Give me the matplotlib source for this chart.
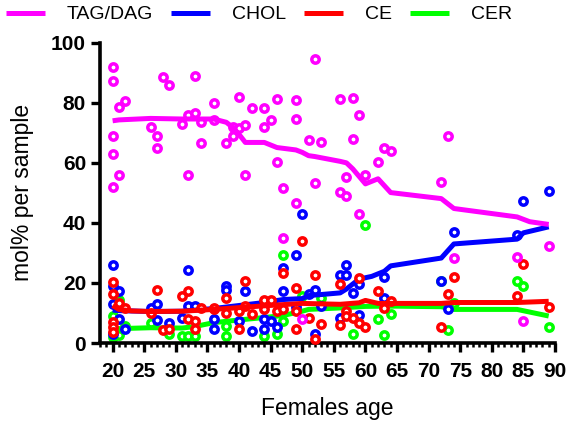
import matplotlib
matplotlib.use('Agg')
import matplotlib.pyplot as plt
from matplotlib.ticker import MultipleLocator

plt.rcParams['font.family'] = ['Liberation Sans', 'DejaVu Sans']

# TAG/DAG points
tag_age = [20, 20, 20, 20, 20, 21, 21, 22, 26, 27, 27, 28, 29, 31, 32, 32, 33, 33,
           34, 34, 36, 36, 38, 39, 39, 40, 40, 41, 41, 42, 44, 44, 45, 46, 46, 47,
           47, 49, 49, 49, 50, 51, 52, 52, 53, 56, 56, 57, 57, 58, 58, 59, 59, 60,
           62, 63, 64, 72, 73, 74, 84, 85, 89]
tag_val = [91.8, 87.4, 69.1, 63.0, 51.8, 78.6, 56.1, 80.5, 71.8, 68.9, 64.8, 88.7,
           85.8, 72.9, 76.1, 55.9, 89.0, 76.7, 73.6, 66.7, 79.8, 74.2, 66.7, 69.0,
           72.0, 71.5, 82.0, 72.5, 55.8, 78.4, 78.4, 71.9, 74.3, 81.3, 60.2, 51.7,
           34.9, 80.9, 74.7, 46.5, 7.9, 67.5, 94.5, 53.2, 67.0, 81.1, 50.3, 55.4,
           49.1, 81.5, 67.8, 76.0, 43.1, 56.1, 60.4, 64.9, 63.9, 53.5, 68.9, 28.3,
           28.8, 7.4, 32.3]

# CHOL points
chol_age = [20, 20, 20, 20, 21, 21, 22, 26, 27, 27, 29, 31, 32, 32, 33, 36, 36, 38,
            38, 40, 41, 42, 44, 44, 45, 46, 47, 47, 49, 49, 50, 51, 52, 52, 53, 56,
            56, 57, 57, 58, 59, 59, 63, 63, 72, 73, 74, 84, 85, 89]
chol_val = [26.1, 19.0, 12.9, 2.9, 17.3, 8.1, 4.8, 11.8, 12.9, 7.7, 6.6, 8.5, 24.4,
            12.3, 12.5, 4.6, 7.9, 18.9, 17.5, 7.4, 17.3, 4.1, 7.9, 4.6, 7.4, 5.2,
            25.0, 17.3, 29.4, 12.0, 42.9, 16.2, 17.8, 3.0, 12.3, 22.8, 8.5, 26.1,
            22.8, 16.7, 19.5, 9.5, 22.0, 15.1, 20.6, 11.2, 36.9, 36.0, 47.3, 50.5]

# CE points
ce_age = [20, 20, 20, 20, 20, 21, 22, 26, 27, 28, 29, 31, 32, 32, 33, 33, 34, 36,
          36, 38, 38, 40, 40, 41, 41, 42, 44, 44, 45, 46, 47, 47, 49, 49, 49, 50,
          51, 52, 52, 53, 56, 56, 57, 57, 58, 59, 59, 60, 62, 63, 64, 72, 73, 74,
          84, 85, 89]
ce_val = [20.2, 16.2, 6.9, 5.3, 3.7, 13.2, 11.8, 9.9, 17.6, 4.4, 4.8, 15.8, 17.3,
          7.9, 7.4, 4.6, 11.8, 11.2, 11.8, 15.1, 10.1, 10.7, 4.6, 20.6, 12.3, 9.6,
          14.5, 11.2, 14.5, 10.7, 23.3, 11.2, 18.4, 10.7, 4.6, 34.1, 8.5, 22.8, 1.5,
          6.3, 19.7, 5.9, 10.7, 9.0, 8.5, 21.7, 6.8, 5.2, 17.3, 11.8, 14.0, 5.5,
          16.2, 22.0, 15.6, 26.4, 12.0]

# CER points
cer_age = [20, 20, 21, 21, 22, 26, 29, 31, 32, 33, 38, 38, 44, 46, 47, 47, 50, 53,
           58, 60, 62, 63, 64, 72, 73, 74, 84, 85, 89]
cer_val = [9.0, 2.0, 14.5, 2.6, 5.7, 6.8, 3.0, 2.4, 2.4, 2.4, 5.6, 2.4, 2.4, 3.0,
           29.4, 7.4, 15.6, 15.1, 3.0, 39.3, 7.9, 2.6, 9.6, 20.6, 4.3, 13.4, 20.6,
           19.1, 5.4]

# trend lines
tag_fit_age = [20, 21, 26, 31, 36, 38, 39, 40, 41, 44, 46, 49, 50, 51, 52, 56, 57,
               58, 60, 62, 64, 72, 74, 84, 86, 89]
tag_fit_val = [74.0, 74.3, 74.8, 74.6, 74.6, 73.5, 71.8, 69.5, 66.8, 66.8, 65.1,
               64.3, 63.5, 62.4, 62.1, 60.5, 60.0, 58.0, 53.0, 54.7, 50.1, 48.1,
               44.8, 42.0, 40.4, 39.5]
chol_fit_age = [20, 21, 26, 31, 36, 40, 44, 47, 50, 51, 56, 57, 59, 61, 63, 64, 72,
                74, 84, 85, 89]
chol_fit_val = [11.0, 10.8, 10.5, 10.6, 11.5, 12.5, 13.5, 14.5, 14.8, 15.8, 16.7,
                18.0, 21.3, 22.2, 23.9, 25.7, 28.3, 33.0, 34.6, 36.7, 38.7]
ce_fit_age = [20, 21, 23, 26, 31, 36, 40, 44, 47, 50, 56, 59, 60, 62, 64, 72, 74,
              84, 89]
ce_fit_val = [12.5, 11.2, 10.7, 10.5, 10.6, 11.2, 11.8, 12.4, 12.8, 13.2, 12.9,
              13.4, 14.2, 13.2, 13.2, 13.2, 13.5, 13.5, 13.9]
cer_fit_age = [20, 21, 26, 31, 33, 36, 41, 44, 47, 50, 51, 56, 60, 64, 72, 74, 84,
               89]
cer_fit_val = [5.2, 4.8, 5.1, 5.0, 5.5, 6.8, 7.9, 8.5, 9.2, 10.6, 11.2, 11.7, 12.2,
               12.3, 12.1, 11.2, 11.2, 9.0]

series = [
    ('TAG/DAG', '#ff00ff', tag_age, tag_val, tag_fit_age, tag_fit_val, 8),
    ('CHOL', '#0000ff', chol_age, chol_val, chol_fit_age, chol_fit_val, 4),
    ('CE', '#ff0000', ce_age, ce_val, ce_fit_age, ce_fit_val, 6),
    ('CER', '#00ff00', cer_age, cer_val, cer_fit_age, cer_fit_val, 2),
]

fig = plt.figure(figsize=(5.7, 4.23), dpi=100)
ax = fig.add_axes([0.1754, 0.189, 0.7983, 0.710])

for name, col, xa, ya, fx, fy, z in series:
    ax.plot(xa, ya, 'o', ms=5.3, mfc='white', mec=col, mew=2.5, clip_on=False,
            zorder=z)
    ax.plot(fx, fy, '-', color=col, lw=3.6, label=name, zorder=z + 1,
            solid_capstyle='butt')

ax.set_xlim(18, 90)
ax.set_ylim(0, 100)
ax.xaxis.set_major_locator(MultipleLocator(5))
ax.xaxis.set_minor_locator(MultipleLocator(1))
ax.yaxis.set_major_locator(MultipleLocator(20))

for s in ['top', 'right']:
    ax.spines[s].set_visible(False)
for s in ['left', 'bottom']:
    ax.spines[s].set_linewidth(2.6)

ax.tick_params(axis='both', which='major', direction='out', width=2.4,
               length=6.5, labelsize=15)
ax.tick_params(axis='x', which='major', pad=7)
ax.tick_params(axis='x', which='minor', direction='out', width=1.8, length=3)
for lab in ax.get_xticklabels() + ax.get_yticklabels():
    lab.set_fontweight('bold')

ax.set_xlabel('Females age', fontsize=16.5, labelpad=12)
ax.set_ylabel('mol% per sample', fontsize=16.5, labelpad=12)

fig.legend(loc='upper left', bbox_to_anchor=(0.0, 1.0), ncol=4, frameon=False,
           fontsize=14, handlelength=2.0, handletextpad=1.13, columnspacing=0.93,
           borderaxespad=0.2, borderpad=0.1)

fig.savefig('out.png', dpi=100)
